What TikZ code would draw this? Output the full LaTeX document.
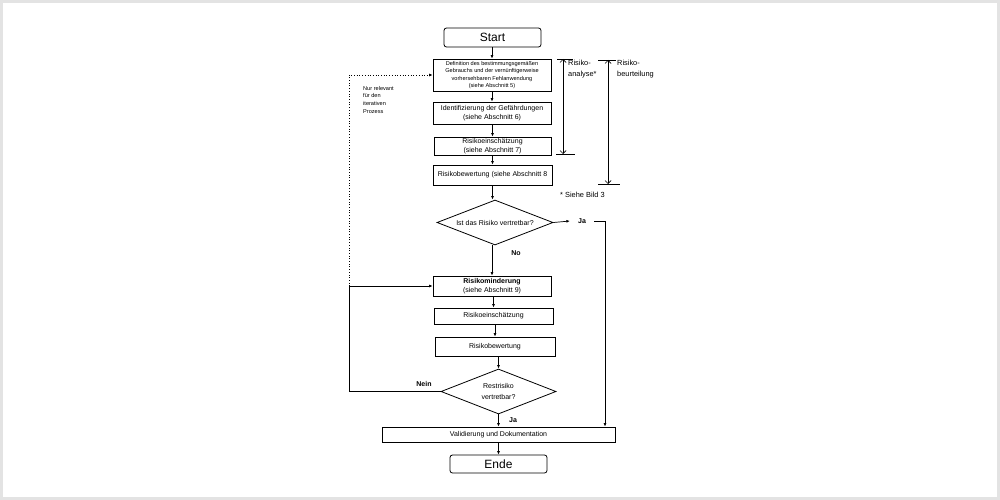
\documentclass[tikz,border=0pt]{standalone}
\usepackage{fontspec}
\setmainfont{Liberation Sans}
\usetikzlibrary{shapes.geometric,arrows.meta}
\begin{document}
\begin{tikzpicture}[x=1pt,y=-1pt,
  box/.style={draw, line width=0.8pt, inner sep=0pt, align=center, font=\fontsize{7}{9.5}\selectfont},
  term/.style={box, rounded corners=2.5pt, font=\fontsize{12}{14}\selectfont},
  dia/.style={draw, line width=0.8pt, diamond, aspect=2.58, inner sep=0pt, align=center, font=\fontsize{7}{11}\selectfont},
  arr/.style={-{Latex[length=3.5pt,width=3pt]}, line width=0.7pt},
  lbl/.style={inner sep=0pt, font=\fontsize{7}{9}\bfseries\selectfont},
  note/.style={inner sep=0pt, align=left, font=\fontsize{7.4}{10.5}\selectfont},
  bracket/.style={line width=0.7pt}]
\path[use as bounding box] (0,0) rectangle (1000,500);
\fill[gray!22] (0,0) rectangle (1000,500);
\fill[white] (3,3) rectangle (997,497);

\node[term, minimum width=97pt, minimum height=19pt] (start) at (492.5,37.5) {Start};
\node[box, minimum width=118pt, minimum height=32pt, font=\fontsize{5.6}{7.3}\selectfont] (b1) at (492,75)
  {Definition des bestimmungsgemäßen\\Gebrauchs und der vernünftigerweise\\vorhersehbaren Fehlanwendung\\(siehe Abschnitt 5)};
\node[box, minimum width=118pt, minimum height=22pt] (b2) at (492,113) {Identifizierung der Gefährdungen\\(siehe Abschnitt 6)};
\node[box, minimum width=117pt, minimum height=18pt, font=\fontsize{7}{9}\selectfont] (b3) at (492.5,146) {Risikoeinschätzung\\(siehe Abschnitt 7)};
\node[box, minimum width=119pt, minimum height=20pt] (b4) at (492.5,175) {Risikobewertung (siehe Abschnitt 8};
\node[dia, minimum width=116pt, minimum height=45pt] (d1) at (495,222.5) {Ist das Risiko vertretbar?};
\node[box, minimum width=118pt, minimum height=20pt] (b5) at (492,286) {\textbf{Risikominderung}\\(siehe Abschnitt 9)};
\node[box, minimum width=119pt, minimum height=16pt] (b6) at (493.5,316) {Risikoeinschätzung};
\node[box, minimum width=120pt, minimum height=19pt] (b7) at (495,346.5) {Risikobewertung};
\node[dia, minimum width=115pt, minimum height=45pt] (d2) at (498.5,391.5) {Restrisiko\\vertretbar?};
\node[box, minimum width=233pt, minimum height=15pt] (b8) at (498.5,434.5) {Validierung und Dokumentation};
\node[term, minimum width=97pt, minimum height=18pt] (ende) at (498.5,464) {Ende};

% labels
\node[lbl] (ja1) at (582,221) {Ja};
\node[lbl] (no) at (516,253) {No};
\node[lbl] (nein) at (424,384) {Nein};
\node[lbl] (ja2) at (513,420) {Ja};
\node[note, anchor=north west, font=\fontsize{5.6}{7.6}\selectfont] (iter) at (363,86) {Nur relevant\\für den\\iterativen\\Prozess};
\node[note, anchor=north west] (ra) at (568,60) {Risiko-\\analyse*};
\node[note, anchor=north west] (rb) at (617,60) {Risiko-\\beurteilung};
\node[note, anchor=west] (sb) at (560,195) {* Siehe Bild 3};

% main flow
\draw[arr] (start.south -| b1.north) -- (b1.north);
\draw[arr] (b1.south) -- (b2.north);
\draw[arr] (b2.south -| b3.north) -- (b3.north);
\draw[arr] (b3.south) -- (b3.south |- b4.north);
\draw[arr] (b4.south) -- (b4.south |- d1.north);
\draw[arr] (d1.south -| b5.north) -- (b5.north);
\draw[arr] (b5.south -| b6.north) -- (b6.north);
\draw[arr] (b6.south -| b7.north) -- (b7.north);
\draw[arr] (b7.south -| d2.north) -- (d2.north);
\draw[arr] (d2.south) -- (d2.south |- b8.north);
\draw[arr] (b8.south) -- (b8.south |- ende.north);

% Ja branch
\coordinate (jr) at (605,0);
\draw[arr] (d1.east) -- ([xshift=-8pt]ja1.west);
\draw[arr] ([xshift=8pt]ja1.east) -- (jr |- ja1.east) -- (jr |- b8.north);

% feedback
\coordinate (fb) at (349,0);
\draw[arr] (d2.west) -- (fb |- d2.west) -- (fb |- b5.west) -- (b5.west);
\draw[arr, dotted] (fb |- b5.west) -- (fb |- b1.west) -- (b1.west);

% brackets
\coordinate (a1) at (563,59);
\coordinate (a2) at (563,154);
\draw[bracket] (557,59) -- (573,59);
\draw[bracket] (556,154) -- (575,154);
\draw[bracket, {Straight Barb[length=3pt]}-{Straight Barb[length=3pt]}] (a1) -- (a2);
\coordinate (c1) at (608,60);
\coordinate (c2) at (608,184);
\draw[bracket] (598,60) -- (616,60);
\draw[bracket] (598,184) -- (620,184);
\draw[bracket, {Straight Barb[length=3pt]}-{Straight Barb[length=3pt]}] (c1) -- (c2);
\end{tikzpicture}
\end{document}
